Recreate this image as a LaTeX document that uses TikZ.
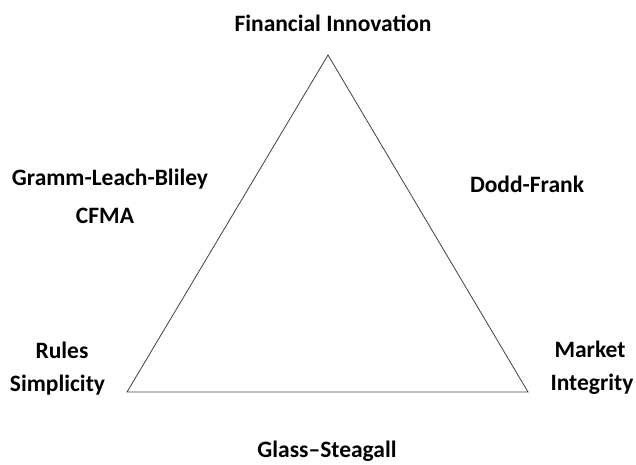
\documentclass[tikz,border=0pt]{standalone}
\usepackage{fontspec}
\setmainfont{Carlito}
\begin{document}
\begin{tikzpicture}[x=1pt,y=-1pt,
  lab/.style={font=\fontsize{23.5}{26}\selectfont\bfseries, anchor=base, inner sep=0pt, text=black},
  tri/.style={draw=black!75, line width=0.8pt}]
\useasboundingbox (0,0) rectangle (636,464);
\coordinate (A) at (328,55);
\coordinate (B) at (127,392);
\coordinate (C) at (528,392);
\draw[tri] (A) -- (B) -- (C) -- cycle;
\node[lab] (fi) at (333,31) {Financial Innovation};
\node[lab] (glb) at (110,185) {Gramm-Leach-Bliley};
\node[lab] (cfma) at (105,223) {CFMA};
\node[lab] (df) at (527,192) {Dodd-Frank};
\node[lab] (ru) at (62,358) {Rules};
\node[lab] (si) at (57.5,391) {Simplicity};
\node[lab] (ma) at (590,357) {Market};
\node[lab] (in) at (592,390) {Integrity};
\node[lab] (gs) at (327,457) {Glass--Steagall};
\end{tikzpicture}
\end{document}
